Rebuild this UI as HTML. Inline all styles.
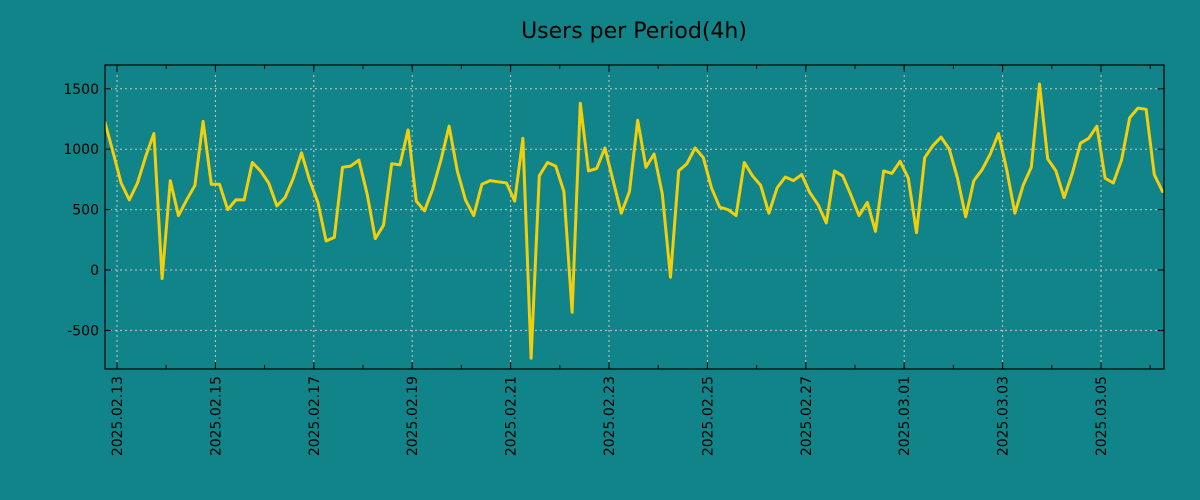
<!DOCTYPE html>
<html><head><meta charset="utf-8"><style>
html,body{margin:0;padding:0;background:#10848a;}
svg{display:block;font-family:"DejaVu Sans","Liberation Sans",sans-serif;}
</style></head><body>
<svg id="chart" width="1200" height="500">
<rect x="0" y="0" width="1200" height="500" fill="#108488"/>
<text x="634" y="38" text-anchor="middle" font-size="22" fill="#000">Users per Period(4h)</text>
<g id="grid"></g>
<g id="axes"></g>
<clipPath id="clip"><rect x="105" y="65" width="1059" height="304"/></clipPath>
<g id="series" clip-path="url(#clip)"></g>
<rect x="105" y="65" width="1059" height="304" fill="none" stroke="#000" stroke-width="1.2"/>
</svg>
<script>
const values = [1230,980,720,580,720,940,1130,-70,740,450,580,700,1230,710,710,500,580,580,890,820,720,530,600,760,970,740,560,240,270,850,860,910,630,260,370,880,870,1160,570,490,670,910,1190,820,580,450,710,740,730,720,570,1090,-730,780,890,860,650,-350,1380,820,840,1010,740,470,650,1240,850,960,630,-60,820,880,1010,930,680,520,500,450,890,780,700,470,680,770,740,790,640,540,390,820,780,620,450,560,320,820,800,900,760,310,930,1030,1100,1000,760,440,740,830,960,1130,830,470,700,850,1540,920,820,600,800,1050,1090,1190,760,720,910,1260,1340,1330,790,650,640];
const startHour = -6;        // hours relative to 2025-02-13 00:00
const stepHours = 4;
const yTicks = [-500,0,500,1000,1500];
const dateLabels = ["2025.02.13","2025.02.15","2025.02.17","2025.02.19","2025.02.21","2025.02.23","2025.02.25","2025.02.27","2025.03.01","2025.03.03","2025.03.05"];
const dateDayOffsets = [0,2,4,6,8,10,12,14,16,18,20];

const NS="http://www.w3.org/2000/svg";
const L=105,R=1164,T=65,B=369;
const xDay=d=>117+d*49.2;
const xH=h=>xDay(h/24);
const y=v=>270-v*0.1208;
function mk(tag,attrs,parent){const e=document.createElementNS(NS,tag);for(const k in attrs)e.setAttribute(k,attrs[k]);parent.appendChild(e);return e;}
const grid=document.getElementById('grid'),axes=document.getElementById('axes'),series=document.getElementById('series');

yTicks.forEach(v=>{
  const g=mk('line',{x1:L,x2:R,y1:y(v),y2:y(v),stroke:'#c8c8c8','stroke-width':1,'stroke-dasharray':'2,3'},grid);
  
  
  mk('line',{x1:L,x2:L+6,y1:y(v),y2:y(v),stroke:'#000'},axes);
  mk('line',{x1:R-6,x2:R,y1:y(v),y2:y(v),stroke:'#000'},axes);
  const t=mk('text',{x:99,y:y(v)+5,'text-anchor':'end','font-size':14,fill:'#000'},axes);
  t.textContent=v;
  
  
});
for(let d=-0;d<=21;d++){
  const x=xDay(d);
  if(x<L||x>R)continue;
  mk('line',{x1:x,x2:x,y1:B,y2:B-4,stroke:'#000'},axes);
  mk('line',{x1:x,x2:x,y1:T,y2:T+4,stroke:'#000'},axes);
}
dateLabels.forEach((lab,i)=>{
  const x=xDay(dateDayOffsets[i]);
  const g=mk('line',{x1:x,x2:x,y1:T,y2:B,stroke:'#c8c8c8','stroke-width':1,'stroke-dasharray':'2,3'},grid);
  
  
  mk('line',{x1:x,x2:x,y1:B,y2:B-7,stroke:'#000'},axes);
  mk('line',{x1:x,x2:x,y1:T,y2:T+7,stroke:'#000'},axes);
  const t=mk('text',{x:0,y:0,transform:`translate(${x+5},${376}) rotate(-90)`,'text-anchor':'end','font-size':14,fill:'#000'},axes);
  t.textContent=lab;
  
  
});
const pts=values.map((v,i)=>xH(startHour+i*stepHours).toFixed(1)+','+y(v).toFixed(1)).join(' ');
const line=mk('polyline',{points:pts,fill:'none',stroke:'#f2cf0a','stroke-width':3,'stroke-linejoin':'round'},series);


</script>
</body></html>
